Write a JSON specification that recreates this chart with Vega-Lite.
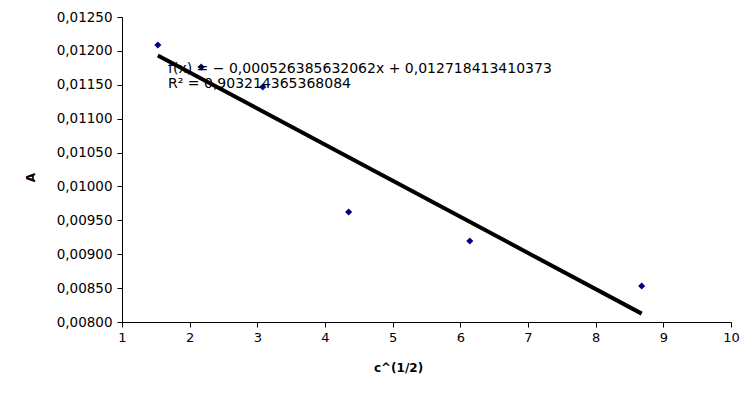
{
  "$schema": "https://vega.github.io/schema/vega-lite/v6.json",
  "width": 609,
  "height": 305,
  "autosize": "none",
  "padding": {"left": 122, "top": 17, "right": 24, "bottom": 73},
  "background": "white",
  "config": {
    "locale": {"number": {"decimal": ",", "thousands": ".", "grouping": [3], "currency": ["", ""]}},
    "view": {"stroke": null},
    "font": "DejaVu Sans"
  },
  "datasets": {
    "pts": [
      {"c": 1.53, "A": 0.012087},
      {"c": 2.17, "A": 0.011762},
      {"c": 3.08, "A": 0.011467},
      {"c": 4.35, "A": 0.009623},
      {"c": 6.14, "A": 0.009195},
      {"c": 8.68, "A": 0.008531}
    ],
    "labels": [
      {"c": 1.68, "A": 0.011733, "t": "f(x) = − 0,000526385632062x + 0,012718413410373"},
      {"c": 1.68, "A": 0.011511, "t": "R² = 0,903214365368084"}
    ]
  },
  "encoding": {
    "x": {
      "field": "c", "type": "quantitative",
      "scale": {"domain": [1, 10], "nice": false, "zero": false},
      "axis": {
        "title": "c^(1/2)", "values": [1, 2, 3, 4, 5, 6, 7, 8, 9, 10], "format": "d",
        "grid": false, "domainColor": "black", "tickColor": "black", "tickSize": 5,
        "labelFontSize": 13, "labelColor": "black", "labelPadding": 4,
        "labelFlush": false, "labelOverlap": false, "labelBound": false,
        "titleFontSize": 12, "titleFontWeight": "bold", "titleColor": "black",
        "titleX": 276, "titleY": 45, "titleBaseline": "middle", "titleAnchor": null
      }
    },
    "y": {
      "field": "A", "type": "quantitative",
      "scale": {"domain": [0.008, 0.0125], "nice": false, "zero": false},
      "axis": {
        "title": "A", "values": [0.008, 0.0085, 0.009, 0.0095, 0.01, 0.0105, 0.011, 0.0115, 0.012, 0.0125],
        "format": ".5f",
        "grid": false, "domainColor": "black", "tickColor": "black", "tickSize": 5,
        "labelFontSize": 13.5, "labelColor": "black", "labelPadding": 5,
        "labelFlush": false, "labelOverlap": false, "labelBound": false,
        "titleFontSize": 12, "titleFontWeight": "bold", "titleColor": "black",
        "titleX": -92, "titleY": 160, "titleBaseline": "middle", "titleAngle": -90
      }
    }
  },
  "layer": [
    {
      "data": {"name": "pts"},
      "transform": [{"regression": "A", "on": "c"}],
      "mark": {"type": "line", "color": "black", "strokeWidth": 4, "clip": true}
    },
    {
      "data": {"name": "pts"},
      "mark": {"type": "point", "shape": "diamond", "filled": true, "color": "#000080", "size": 50, "opacity": 1}
    },
    {
      "data": {"name": "labels"},
      "mark": {"type": "text", "align": "left", "baseline": "middle", "fontSize": 14, "color": "black"},
      "encoding": {
        "text": {"field": "t"}
      }
    }
  ]
}
